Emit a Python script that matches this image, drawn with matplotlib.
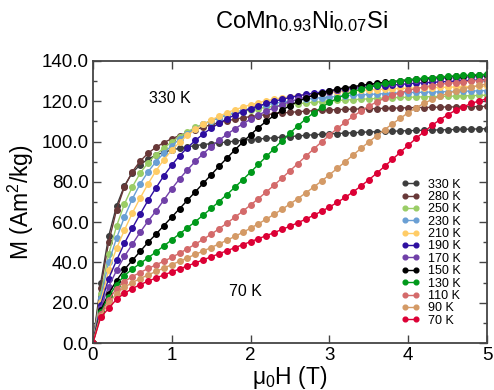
import numpy as np
import matplotlib
matplotlib.use("Agg")
import matplotlib.pyplot as plt
from matplotlib.ticker import MultipleLocator

plt.rcParams['font.family'] = ['Liberation Sans', 'DejaVu Sans']
plt.rcParams['mathtext.fontset'] = 'custom'
plt.rcParams['mathtext.rm'] = 'Liberation Sans'
plt.rcParams['mathtext.it'] = 'Liberation Sans'

# field (T), 0.1 T steps
H = [round(0.1 * i, 1) for i in range(51)]

labels = ['330 K', '280 K', '250 K', '230 K', '210 K', '190 K',
          '170 K', '150 K', '130 K', '110 K', '90 K', '70 K']
colors = ['#3d3d3d', '#683838', '#9acd66', '#6a9fd4', '#ffcc66', '#2e0fa0',
          '#7040a8', '#000000', '#00991a', '#d46a6a', '#d49a66', '#dc0035']

M330 = [0, 30, 53, 68, 78, 84.5, 88.5, 91.3, 93.2, 94.7, 95.8, 96.7, 97.4, 98, 98.5, 99,
        99.4, 99.8, 100.2, 100.6, 101, 101.3, 101.6, 101.9, 102.2, 102.5, 102.8, 103.1,
        103.4, 103.6, 103.8, 104, 104.2, 104.4, 104.6, 104.8, 104.9, 105, 105.1, 105.3,
        105.4, 105.5, 105.6, 105.7, 105.8, 105.9, 106, 106.1, 106.2, 106.3, 106.4]
M280 = [0, 27.5, 50, 66, 77.5, 85, 90.3, 94.2, 97.2, 99.5, 101.4, 103, 104.5, 105.9, 107.2,
        108.4, 109.4, 110.3, 111.1, 111.8, 112.4, 112.9, 113.4, 113.8, 114.2, 114.5, 114.8,
        115.1, 115.3, 115.5, 115.7, 115.9, 116, 116.1, 116.2, 116.3, 116.4, 116.5, 116.6,
        116.7, 116.8, 116.9, 116.9, 117, 117.1, 117.2, 117.2, 117.3, 117.3, 117.4, 117.5]
M250 = [0, 24.5, 44, 58, 69, 77.5, 84.3, 89.5, 93.5, 96.8, 99.8, 102.5, 104.9, 107, 108.8,
        110.4, 111.8, 113, 114, 114.9, 115.7, 116.4, 117, 117.5, 118, 118.4, 118.8, 119.2,
        119.5, 119.8, 120.1, 120.4, 120.6, 120.8, 121, 121.2, 121.4, 121.6, 121.8, 121.9,
        122, 122.1, 122.2, 122.3, 122.4, 122.5, 122.6, 122.7, 122.8, 122.9, 123]
M230 = [0, 22.5, 40, 52, 62.5, 71.5, 79, 85, 90, 94.3, 98, 101.2, 104, 106.4, 108.5, 110.3,
        111.9, 113.3, 114.5, 115.6, 116.6, 117.5, 118.3, 119, 119.6, 120.1, 120.6, 121,
        121.4, 121.8, 122.1, 122.4, 122.7, 123, 123.2, 123.4, 123.6, 123.8, 124, 124.2,
        124.3, 124.4, 124.5, 124.6, 124.7, 124.8, 124.9, 125, 125.1, 125.2, 125.3]
M210 = [0, 20.5, 36, 47, 56, 64.5, 72, 79, 85.5, 91, 95.7, 99.7, 103.1, 106, 108.5, 110.7,
        112.6, 114.3, 115.8, 117.1, 118.3, 119.3, 120.2, 121, 121.7, 122.3, 122.8, 123.3,
        123.7, 124.1, 124.4, 124.7, 125, 125.2, 125.4, 125.6, 125.8, 126, 126.2, 126.4,
        126.5, 126.6, 126.7, 126.8, 126.9, 127, 127.1, 127.2, 127.3, 127.4, 127.5]
M190 = [0, 19, 32, 41, 49.5, 57, 64, 70.8, 77, 83, 88.3, 93, 97, 100.6, 103.8, 106.6, 109.1,
        111.3, 113.2, 114.9, 116.4, 117.7, 118.9, 120, 121, 121.9, 122.7, 123.4, 124, 124.6,
        125.1, 125.6, 126, 126.4, 126.8, 127.2, 127.5, 127.8, 128.1, 128.4, 128.7, 129,
        129.2, 129.4, 129.6, 129.8, 130, 130.2, 130.4, 130.6, 130.8]
M170 = [0, 17.5, 28, 36, 43, 49, 55, 60.5, 65.5, 71, 76.5, 81.5, 86, 90.2, 94, 97.5, 100.7,
        103.6, 106.3, 108.8, 111.1, 113.2, 115.1, 116.8, 118.4, 119.8, 121, 122.1, 123.1,
        124, 124.8, 125.5, 126.2, 126.8, 127.4, 127.9, 128.4, 128.9, 129.3, 129.7, 130.1,
        130.4, 130.7, 131, 131.3, 131.5, 131.7, 131.9, 132.1, 132.3, 132.4]
M150 = [0, 16.2, 24.5, 31, 36.5, 41, 45.5, 50, 54, 58.3, 62.5, 66.7, 70.9, 75.1, 79.3, 83.5,
        87.7, 91.8, 95.8, 99.7, 103.4, 106.9, 110.1, 113, 115.6, 117.9, 119.9, 121.6, 123,
        124.2, 125.2, 126, 126.7, 127.3, 127.9, 128.4, 128.9, 129.4, 129.8, 130.2, 130.6,
        131, 131.3, 131.6, 131.9, 132.2, 132.4, 132.6, 132.8, 133, 133.2]
M130 = [0, 15.3, 23, 29, 33.5, 36.7, 39.5, 42.3, 45.2, 48.2, 51.2, 54.2, 57.2, 60.3, 63.5,
        66.8, 70.2, 73.7, 77.3, 81, 84.8, 88.7, 92.6, 96.5, 100.4, 104.2, 107.8, 111.2, 114.3,
        117, 119.4, 121.5, 123.3, 124.8, 126.1, 127.2, 128.1, 128.9, 129.6, 130.2, 130.7,
        131.1, 131.5, 131.8, 132.1, 132.4, 132.6, 132.8, 133, 133.2, 133.4]
M110 = [0, 14.5, 21.5, 27, 30.5, 33, 35, 37, 38.8, 40.6, 42.5, 44.6, 46.8, 49.1, 51.5, 54,
        56.7, 59.5, 62.4, 65.4, 68.5, 71.7, 75, 78.4, 81.9, 85.5, 89.1, 92.7, 96.3, 99.8,
        103.2, 106.5, 109.6, 112.5, 115.2, 117.6, 119.7, 121.5, 123, 124.3, 125.4, 126.3,
        127.1, 127.8, 128.4, 128.9, 129.3, 129.7, 130, 130.3, 130.6]
M90 = [0, 13.5, 19.7, 24.5, 27.7, 30, 32, 33.8, 35.5, 37.2, 38.9, 40.6, 42.3, 44, 45.7,
       47.4, 49.2, 51, 52.9, 54.9, 57, 59.2, 61.5, 63.9, 66.4, 69, 71.7, 74.5, 77.4, 80.4,
       83.5, 86.7, 90, 93.3, 96.6, 99.8, 102.9, 105.9, 108.8, 111.6, 114.3, 116.8, 119,
       120.9, 122.5, 123.9, 125.1, 126.2, 127.1, 127.9, 128.6]
M70 = [0, 12.8, 17.2, 21.7, 24.7, 27, 29, 30.7, 32.3, 33.8, 35.3, 36.8, 38.3, 39.8, 41.3,
       42.8, 44.3, 45.8, 47.3, 48.8, 50.3, 51.8, 53.3, 54.8, 56.4, 58, 59.7, 61.5, 63.4,
       65.4, 67.5, 69.8, 72.3, 75, 77.9, 81, 84.3, 87.7, 91.2, 94.7, 98.2, 101.6, 104.9,
       108, 110.8, 113.3, 115.5, 117.3, 118.9, 120.2, 121.3]

curves = [M330, M280, M250, M230, M210, M190, M170, M150, M130, M110, M90, M70]

fig = plt.figure(figsize=(4.94, 3.9), dpi=100)
ax = fig.add_axes([0.188, 0.1205, 0.798, 0.7231])

for M, lab, c in zip(curves, labels, colors):
    ax.plot(H, M, '-o', color=c, lw=1.0, ms=4.0, label=lab)

ax.set_xlim(0, 5)
ax.set_ylim(0, 140)
ax.xaxis.set_major_locator(MultipleLocator(1))
ax.yaxis.set_major_locator(MultipleLocator(20))
ax.yaxis.set_minor_locator(MultipleLocator(10))
ax.set_yticklabels(['%.1f' % v for v in ax.get_yticks()])
ax.tick_params(which='both', direction='in', top=True, right=True, labelsize=13.5,
               color='#444444', pad=3)
ax.tick_params(which='major', length=6, width=1)
ax.tick_params(which='minor', length=3, width=1)
for s in ax.spines.values():
    s.set_linewidth(1.3)
    s.set_color('#444444')

ax.set_xlabel(r'$\mathregular{\mu_0}$H (T)', fontsize=16.5, labelpad=0)
ax.set_ylabel(r'M (Am$\mathregular{^2}$/kg)', fontsize=16.5, labelpad=4)
fig.text(0.61, 0.946, r'CoMn$_{0.93}$Ni$_{0.07}$Si', fontsize=17, ha='center', va='center')

ax.text(0.98, 121.5, '330 K', fontsize=11.5, ha='center', va='center')
ax.text(1.94, 25.5, '70 K', fontsize=11.5, ha='center', va='center')

leg = ax.legend(loc='lower right', bbox_to_anchor=(0.945, 0.04), borderaxespad=0,
                frameon=False, fontsize=9, numpoints=2, handlelength=1.5,
                handletextpad=0.6, labelspacing=0.03, markerscale=0.85)

fig.savefig('out.png', dpi=100)
